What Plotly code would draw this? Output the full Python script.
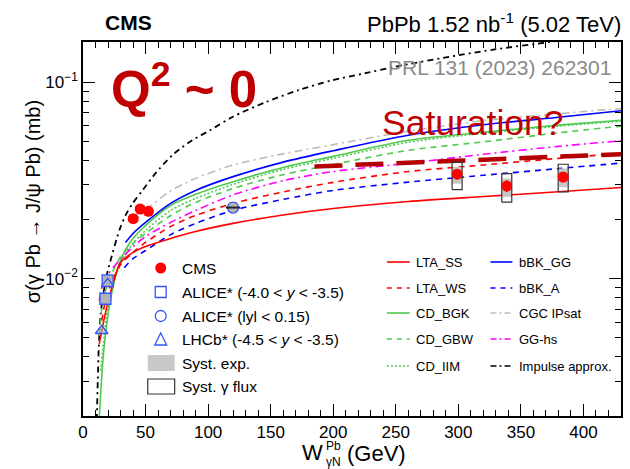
import plotly.graph_objects as go
import math

# ---------------- data ----------------
# Model curves: W_gammaN (GeV) and sigma (mb)
impulse_W = [11.0, 11.8, 12.6, 14.1, 18.1, 21.3, 29.3, 34.0, 39.6, 47.5, 57.9, 71.4, 87.3, 101.6, 119.1, 146.1, 172.3, 198.6, 225.6, 250, 300, 330, 373, 390]
impulse_s = [0.0019, 0.0030, 0.00445, 0.0066, 0.0098, 0.0119, 0.0178, 0.0210, 0.0241, 0.0281, 0.0343, 0.0425, 0.0506, 0.0569, 0.0663, 0.0791, 0.0910, 0.102, 0.111, 0.120, 0.137, 0.147, 0.160, 0.166]

bbk_gg_W = [34, 40, 50, 70, 90, 120, 160, 200, 260, 320, 380, 430]
bbk_gg_s = [0.01528, 0.01698, 0.01932, 0.02415, 0.02812, 0.03304, 0.03917, 0.04477, 0.05370, 0.06067, 0.06622, 0.07145]

ipsat_W = [40, 50, 70, 90, 120, 160, 200, 260, 320, 380, 430]
ipsat_s = [0.01931, 0.02223, 0.02792, 0.03237, 0.03786, 0.04315, 0.04806, 0.05623, 0.06367, 0.06904, 0.07345]

cd_bgk_W = [12.9, 15.7, 18.3, 22.3, 29, 37, 47.5, 70, 90, 120, 160, 200, 260, 320, 380, 430]
cd_bgk_s = [0.0019, 0.00368, 0.00543, 0.00803, 0.01193, 0.01510, 0.01799, 0.02356, 0.02685, 0.03111, 0.03681, 0.04188, 0.05058, 0.05556, 0.06040, 0.06402]

cd_iim_W = [14, 17, 20, 25, 32, 40, 50, 70, 90, 120, 160, 200, 260, 320, 380, 430]
cd_iim_s = [0.00340, 0.00512, 0.00728, 0.00977, 0.01265, 0.01510, 0.01758, 0.02223, 0.02560, 0.03017, 0.03598, 0.04093, 0.04943, 0.05495, 0.05970, 0.06328]

cd_gbw_W = [13, 15, 18, 22, 30, 40, 50, 70, 90, 120, 160, 200, 260, 320, 380, 430]
cd_gbw_s = [0.00512, 0.00703, 0.00869, 0.01024, 0.01294, 0.01510, 0.01698, 0.02096, 0.02442, 0.02877, 0.03381, 0.03811, 0.04498, 0.04966, 0.05520, 0.05970]

gghs_W = [13, 16, 20, 26, 33, 40, 50, 70, 90, 120, 160, 200, 260, 320, 380, 430]
gghs_s = [0.00772, 0.00943, 0.01048, 0.01178, 0.01309, 0.01456, 0.01638, 0.01931, 0.02223, 0.02668, 0.03149, 0.03508, 0.03864, 0.04295, 0.04710, 0.05030]

lta_ss_W = [13, 15, 18, 22, 30, 40, 50, 70, 90, 120, 160, 200, 260, 320, 380, 430]
lta_ss_s = [0.00466, 0.00543, 0.00671, 0.00849, 0.01208, 0.01358, 0.01456, 0.01600, 0.01737, 0.01910, 0.02109, 0.02276, 0.02470, 0.02618, 0.02766, 0.02910]

lta_ws_W = [15, 18, 22, 30, 40, 50, 70, 90, 120, 160, 200, 260, 320, 380, 430]
lta_ws_s = [0.00611, 0.00772, 0.00921, 0.01178, 0.01358, 0.01528, 0.01841, 0.02096, 0.02415, 0.02763, 0.03090, 0.03508, 0.03786, 0.04093, 0.04341]

bbk_a_W = [33, 40, 50, 70, 90, 120, 160, 200, 260, 320, 380, 430]
bbk_a_s = [0.01138, 0.01265, 0.01390, 0.01675, 0.01908, 0.02228, 0.02530, 0.02812, 0.03097, 0.03357, 0.03631, 0.03873]

saturation_W = [185, 430]
saturation_s = [0.0372, 0.0430]

# CMS measurements
cms_W = [40.1, 45.7, 52.3, 299.0, 338.7, 383.8]
cms_s = [0.0202, 0.0226, 0.0220, 0.0340, 0.0296, 0.0329]
cms_stat = [0.0004, 0.0004, 0.0004, 0.0020, 0.0020, 0.0020]
cms_sys_lo = [0.0192, 0.0215, 0.0209, 0.0304, 0.0260, 0.0292]
cms_sys_hi = [0.0213, 0.0238, 0.0232, 0.0370, 0.0323, 0.0363]
cms_flux_W = [299.0, 338.7, 383.8]
cms_flux_lo = [0.0284, 0.0245, 0.0276]
cms_flux_hi = [0.0392, 0.0342, 0.0382]

alice_fwd_W = [17.9, 19.7]
alice_fwd_s = [0.0079, 0.0098]
alice_mid_W = [119.9]
alice_mid_s = [0.0230]
lhcb_W = [14.9, 19.7]
lhcb_s = [0.00543, 0.0094]

x_ticks = [0, 50, 100, 150, 200, 250, 300, 350, 400]
y_ticks = [0.01, 0.1]
y_ticktext = ["10<sup>\u22122</sup>", "10<sup>\u22121</sup>"]

# ---------------- styling ----------------
FONT = "Liberation Sans, Arial, Helvetica, sans-serif"
RED = "#ff0000"
GREEN = "#4fc94f"
BLUE = "#0000ff"
GRAY = "#c2bab2"
MAGENTA = "#ff00ff"
DARKRED = "#c00000"
DASH = "6px,5px"
DASHDOT = "8px,4px,2px,4px"

L, R, T, B = 83, 623, 42, 416
FW, FH = 630, 469


def px(x):
    return (x - L) / (R - L)


def py(y):
    return (B - y) / (B - T)


fig = go.Figure()


def curve(xs, ys, color, dash="solid", width=1.6):
    fig.add_trace(go.Scatter(x=xs, y=ys, mode="lines", showlegend=False,
                             line=dict(color=color, dash=dash, width=width, shape="spline", smoothing=0.8),
                             hoverinfo="skip"))


curve(impulse_W, impulse_s, "black", "6px,4px,2px,4px", 1.8)
curve(ipsat_W, ipsat_s, GRAY, DASHDOT)
curve(cd_gbw_W, cd_gbw_s, GREEN, DASH)
curve(cd_iim_W, cd_iim_s, GREEN, "2px,2px")
curve(cd_bgk_W, cd_bgk_s, GREEN)
curve(bbk_gg_W, bbk_gg_s, BLUE)
curve(gghs_W, gghs_s, MAGENTA, DASHDOT)
curve(lta_ws_W, lta_ws_s, RED, DASH)
curve(bbk_a_W, bbk_a_s, BLUE, DASH)
curve(lta_ss_W, lta_ss_s, RED)

fig.add_trace(go.Scatter(x=saturation_W, y=saturation_s, mode="lines", showlegend=False,
                         line=dict(color="#b40000", width=4.5, dash="28px,13px"), hoverinfo="skip"))


def boxes(ws, lo, hi, hw):
    bx, by = [], []
    for w, a, b in zip(ws, lo, hi):
        bx += [w - hw, w + hw, w + hw, w - hw, w - hw, None]
        by += [a, a, b, b, a, None]
    return bx, by


# systematic (experimental) gray boxes
sx, sy = boxes(cms_W, cms_sys_lo, cms_sys_hi, 3.6)
fig.add_trace(go.Scatter(x=sx, y=sy, mode="lines", fill="toself", fillcolor="#c8c8c8",
                         line=dict(width=0), showlegend=False, hoverinfo="skip"))
# gamma-flux boxes
fx, fy = boxes(cms_flux_W, cms_flux_lo, cms_flux_hi, 4.0)
fig.add_trace(go.Scatter(x=fx, y=fy, mode="lines", line=dict(color="#333333", width=1.2),
                         showlegend=False, hoverinfo="skip"))

# other experiments
fig.add_trace(go.Scatter(x=alice_fwd_W, y=alice_fwd_s, mode="markers", showlegend=False,
                         marker=dict(symbol="square", size=11, color="#b4b4b4",
                                     line=dict(color="#3355ff", width=1.3)), hoverinfo="skip"))
fig.add_trace(go.Scatter(x=lhcb_W, y=lhcb_s, mode="markers", showlegend=False,
                         marker=dict(symbol="triangle-up", size=11, color="rgba(180,180,180,0.6)",
                                     line=dict(color="#3355ff", width=1.3)), hoverinfo="skip"))
fig.add_trace(go.Scatter(x=alice_mid_W, y=alice_mid_s, mode="markers", showlegend=False,
                         marker=dict(symbol="circle", size=11, color="#b4b4b4",
                                     line=dict(color="#3355ff", width=1.3)), hoverinfo="skip"))
fig.add_trace(go.Scatter(x=alice_mid_W, y=alice_mid_s, mode="markers", showlegend=False,
                         marker=dict(symbol="line-ew", size=10, line=dict(color="#222222", width=2)),
                         hoverinfo="skip"))

# CMS points
fig.add_trace(go.Scatter(x=cms_W, y=cms_s, mode="markers", showlegend=False,
                         error_y=dict(type="data", array=cms_stat, color=RED, thickness=1.5, width=0),
                         marker=dict(symbol="circle", size=11, color=RED), hoverinfo="skip"))

shapes = []
annos = []

# ---------- left legend ----------
lx, r = 161, 5.5
shapes.append(dict(type="circle", xref="paper", yref="paper", x0=px(lx - r), x1=px(lx + r),
                   y0=py(268 + r), y1=py(268 - r), fillcolor=RED, line=dict(width=0)))
shapes.append(dict(type="rect", xref="paper", yref="paper", x0=px(lx - r), x1=px(lx + r),
                   y0=py(292 + r), y1=py(292 - r), line=dict(color="#3355ff", width=1.3)))
shapes.append(dict(type="circle", xref="paper", yref="paper", x0=px(lx - r), x1=px(lx + r),
                   y0=py(316 + r), y1=py(316 - r), line=dict(color="#3355ff", width=1.3)))
shapes.append(dict(type="path", xref="paper", yref="paper",
                   path=f"M {px(lx)},{py(333)} L {px(lx + 6)},{py(345)} L {px(lx - 6)},{py(345)} Z",
                   line=dict(color="#3355ff", width=1.3)))
shapes.append(dict(type="rect", xref="paper", yref="paper", x0=px(148), x1=px(175),
                   y0=py(371), y1=py(355), fillcolor="#c8c8c8", line=dict(width=0)))
shapes.append(dict(type="rect", xref="paper", yref="paper", x0=px(148), x1=px(175),
                   y0=py(394), y1=py(379), line=dict(color="#333333", width=1.2)))
left_texts = [(268, "CMS"), (292, "ALICE* (-4.0 < <i>y</i> < -3.5)"), (316, "ALICE* (lyl < 0.15)"),
              (339, "LHCb* (-4.5 < <i>y</i> < -3.5)"), (363, "Syst. exp."), (386, "Syst. \u03b3 flux")]
for yy, t in left_texts:
    annos.append(dict(xref="paper", yref="paper", x=px(180), y=py(yy), text=t, showarrow=False,
                      xanchor="left", yanchor="middle", font=dict(size=15.5, color="black", family=FONT)))

# ---------- right legend ----------
rows = [262, 288, 313, 339, 366]
col1 = [("LTA_SS", RED, "solid"), ("LTA_WS", RED, "5px,5px"), ("CD_BGK", GREEN, "solid"),
        ("CD_GBW", GREEN, "5px,5px"), ("CD_IIM", GREEN, "2px,2px")]
col2 = [("bBK_GG", BLUE, "solid"), ("bBK_A", BLUE, "5px,5px"), ("CGC IPsat", GRAY, "6px,3px,2px,3px"),
        ("GG-hs", MAGENTA, "6px,3px,2px,3px"), ("Impulse approx.", "black", "6px,3px,2px,3px")]
for (x0, x1, xt, col) in [(388, 411, 415, col1), (492, 514, 519, col2)]:
    for yy, (name, c, d) in zip(rows, col):
        shapes.append(dict(type="line", xref="paper", yref="paper", x0=px(x0), x1=px(x1),
                           y0=py(yy), y1=py(yy), line=dict(color=c, dash=d, width=1.6)))
        annos.append(dict(xref="paper", yref="paper", x=px(xt), y=py(yy), text=name, showarrow=False,
                          xanchor="left", yanchor="middle", font=dict(size=13, color="black", family=FONT)))

# ---------- texts ----------
annos.append(dict(xref="paper", yref="paper", x=px(103), y=py(22), text="<b>CMS</b>", showarrow=False,
                  xanchor="left", yanchor="middle", font=dict(size=21, color="black", family=FONT)))
annos.append(dict(xref="paper", yref="paper", x=px(625), y=py(23), text="PbPb 1.52 nb<sup>-1</sup> (5.02 TeV)",
                  showarrow=False, xanchor="right", yanchor="middle", font=dict(size=22, color="black", family=FONT)))
annos.append(dict(xref="paper", yref="paper", x=px(184), y=py(86), text="<b>Q<sup>2</sup> ~ 0</b>",
                  showarrow=False, xanchor="center", yanchor="middle", font=dict(size=51, color=DARKRED, family=FONT)))
annos.append(dict(xref="paper", yref="paper", x=px(474), y=py(123), text="Saturation?",
                  showarrow=False, xanchor="center", yanchor="middle", font=dict(size=35.5, color=DARKRED, family=FONT)))
annos.append(dict(xref="paper", yref="paper", x=px(501), y=py(68), text="PRL 131 (2023) 262301",
                  showarrow=False, xanchor="center", yanchor="middle", font=dict(size=21, color="#8a8a8a", family=FONT)))
# y-axis title
annos.append(dict(xref="paper", yref="paper", x=px(33), y=py(202),
                  text="\u03c3(\u03b3 Pb \u2192 J/\u03c8 Pb) (mb)", textangle=-90, showarrow=False,
                  xanchor="center", yanchor="middle", font=dict(size=20, color="black", family=FONT)))
# x-axis title
annos.append(dict(xref="paper", yref="paper", x=px(313), y=py(452), text="W", showarrow=False,
                  xanchor="center", yanchor="middle", font=dict(size=22, color="black", family=FONT)))
annos.append(dict(xref="paper", yref="paper", x=px(325), y=py(446), text="Pb", showarrow=False,
                  xanchor="left", yanchor="middle", font=dict(size=12, color="black", family=FONT)))
annos.append(dict(xref="paper", yref="paper", x=px(325), y=py(462), text="\u03b3N", showarrow=False,
                  xanchor="left", yanchor="middle", font=dict(size=12, color="black", family=FONT)))
annos.append(dict(xref="paper", yref="paper", x=px(346), y=py(453), text="(GeV)", showarrow=False,
                  xanchor="left", yanchor="middle", font=dict(size=22, color="black", family=FONT)))

y_minor = [k * 0.001 for k in range(2, 10)] + [k * 0.01 for k in range(2, 10)]

fig.update_layout(
    width=FW, height=FH,
    margin=dict(l=L, r=FW - R, t=T, b=FH - B, pad=0),
    paper_bgcolor="white", plot_bgcolor="white",
    font=dict(family=FONT, color="black"),
    shapes=shapes, annotations=annos,
    xaxis=dict(range=[0, 430], tickvals=x_ticks, ticks="inside", ticklen=12, tickwidth=1.2,
               tickcolor="black", mirror="allticks", showline=True, linecolor="black", linewidth=1.5,
               showgrid=False, zeroline=False, tickfont=dict(size=17, family=FONT),
               minor=dict(dtick=10, ticks="inside", ticklen=6, tickwidth=1.2, tickcolor="black", showgrid=False)),
    yaxis=dict(type="log", range=[math.log10(0.002), math.log10(0.16)], tickvals=y_ticks, ticktext=y_ticktext,
               ticks="inside", ticklen=12, tickwidth=1.2, tickcolor="black", mirror="allticks",
               showline=True, linecolor="black", linewidth=1.5, showgrid=False, zeroline=False,
               tickfont=dict(size=17, family=FONT),
               minor=dict(tickvals=y_minor, ticks="inside", ticklen=6, tickwidth=1.2, tickcolor="black",
                          showgrid=False)),
)

fig.write_html("out.html")
